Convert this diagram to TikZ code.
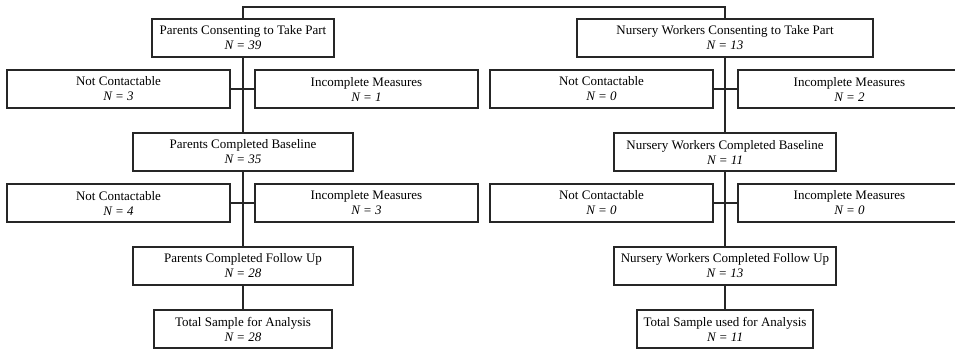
\documentclass[tikz,border=0pt]{standalone}
\usepackage{fontspec}
\setmainfont{Liberation Serif}
\begin{document}
\begin{tikzpicture}[x=1pt,y=-1pt,
  box/.style={draw=black!85, line width=1.2pt, inner sep=0pt, align=center,
    font=\fontsize{13}{15}\selectfont},
  wbox/.style={box, minimum width=223pt, minimum height=38pt},
  conn/.style={draw=black!85, line width=1.2pt}]
\useasboundingbox (0,0) rectangle (955,349);
\clip (0,0) rectangle (955,349);
% left column
\node[box, minimum width=182pt, minimum height=38pt] (L1) at (243,38) {Parents Consenting to Take Part\\\textit{N = 39}};
\node[wbox] (LNC1) at (118.5,89) {Not Contactable\\\textit{N = 3}};
\node[wbox] (LIM1) at (366.5,89) {Incomplete Measures\\\textit{N = 1}};
\node[box, minimum width=220pt, minimum height=38pt] (LB) at (243,152) {Parents Completed Baseline\\\textit{N = 35}};
\node[wbox] (LNC2) at (118.5,203) {Not Contactable\\\textit{N = 4}};
\node[wbox] (LIM2) at (366.5,203) {Incomplete Measures\\\textit{N = 3}};
\node[box, minimum width=220pt, minimum height=38pt] (LF) at (243,266) {Parents Completed Follow Up\\\textit{N = 28}};
\node[box, minimum width=178pt, minimum height=38pt] (LT) at (243,329) {Total Sample for Analysis\\\textit{N = 28}};
% right column
\node[box, minimum width=296pt, minimum height=38pt] (R1) at (725,38) {Nursery Workers Consenting to Take Part\\\textit{N = 13}};
\node[wbox] (RNC1) at (601.5,89) {Not Contactable\\\textit{N = 0}};
\node[wbox] (RIM1) at (849.5,89) {Incomplete Measures\\\textit{N = 2}};
\node[box, minimum width=222pt, minimum height=38pt] (RB) at (725,152) {Nursery Workers Completed Baseline\\\textit{N = 11}};
\node[wbox] (RNC2) at (601.5,203) {Not Contactable\\\textit{N = 0}};
\node[wbox] (RIM2) at (849.5,203) {Incomplete Measures\\\textit{N = 0}};
\node[box, minimum width=222pt, minimum height=38pt] (RF) at (725,266) {Nursery Workers Completed Follow Up\\\textit{N = 13}};
\node[box, minimum width=176pt, minimum height=38pt] (RT) at (725,329) {Total Sample used for Analysis\\\textit{N = 11}};
% connectors
\coordinate (TL) at (243,7);
\coordinate (TR) at (725,7);
\draw[conn] (L1.north) -- (TL) -- (TR) -- (R1.north);
\draw[conn] (L1.south) -- (LB.north);
\draw[conn] (LNC1.east) -- (LIM1.west);
\draw[conn] (LB.south) -- (LF.north);
\draw[conn] (LNC2.east) -- (LIM2.west);
\draw[conn] (LF.south) -- (LT.north);
\draw[conn] (R1.south) -- (RB.north);
\draw[conn] (RNC1.east) -- (RIM1.west);
\draw[conn] (RB.south) -- (RF.north);
\draw[conn] (RNC2.east) -- (RIM2.west);
\draw[conn] (RF.south) -- (RT.north);
\end{tikzpicture}
\end{document}
